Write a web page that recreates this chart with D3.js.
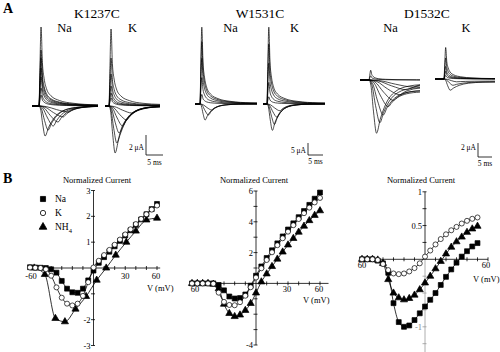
<!DOCTYPE html>
<html>
<head>
<meta charset="utf-8">
<script src="https://cdn.jsdelivr.net/npm/d3@7"></script>
<style>
body{margin:0;background:#fff}
svg{display:block}
text{font-family:"Liberation Serif","Times New Roman","DejaVu Serif",serif;fill:#000}
.trace{fill:none;stroke:#000;stroke-width:0.7}
.fit{fill:none;stroke:#000;stroke-width:0.8}
.ax{stroke:#000;stroke-width:0.8;fill:none}
.tick{font-size:8.5px}
</style>
</head>
<body>
<svg width="500" height="352"></svg>
<script>
const svg = d3.select("svg")

// ---------- panel A data : current traces ----------
// outward transient shape, ms after the step / fraction of peak
const outT = [0, 0.25, 0.6, 1.0, 1.5, 2.2, 3.5, 6, 10, 17, 25]
const outF = [0, 0.45, 1, 0.55, 0.35, 0.22, 0.13, 0.07, 0.035, 0.015, 0.01]
// inward shape: rise as fraction of time to peak, decay in ms after the peak
const inRiseT = [0, 0.25, 0.6, 1]
const inRiseF = [0, 0.1, 0.6, 1]
const inDecT = [1, 2.5, 5, 9, 14, 22]
const inDecF = [0.72, 0.42, 0.17, 0.05, 0.01, 0]

// K1237C (uA, ms)
const k1237NaOut = [7.9, 5.6, 4.8, 3.8, 2.9, 1.8, 1.1]
const k1237NaIn = [3.0, 2.4, 2.0, 1.6, 1.1, 0.6]
const k1237NaPk = [1.8, 2.7, 4.2, 5.6, 7.1, 8.6]
const k1237KOut = [7.7, 4.8, 3.2, 2.0, 1.3, 0.8]
const k1237KIn = [4.7, 3.7, 2.7, 2.0, 1.4, 0.7]
const k1237KPk = [1.8, 2.3, 3.0, 4.0, 5.2, 6.7]
// W1531C
const w1531NaOut = [32, 26, 19, 11, 4]
const w1531NaIn = [6.7, 4.6, 2.5]
const w1531NaPk = [1.7, 2.8, 3.9]
const w1531KOut = [32, 25, 17, 9, 3]
const w1531KIn = [11, 8.5, 5.5, 2.8]
const w1531KPk = [1.8, 2.5, 3.3, 4.3]
// D1532C
const d1532NaOut = [1.4, 0.6]
const d1532NaIn = [7.6, 6.1, 5.0, 3.8, 2.9, 2.1, 1.4, 1.0]
const d1532NaPk = [2.7, 3.9, 5.1, 6.9, 8.7, 11, 13.5, 15.8]
const d1532NaTail = [0.5, 0.9, 1.4, 1.6, 1.4, 1.0, 0.6, 0.4]
const d1532KOut = [4.5, 3.0, 1.8, 1.1, 0.5]
const d1532KIn = [1.6, 0.9, 0.4]
const d1532KPk = [2.2, 3.2, 4.5]
const d1532KTail = [0.4, 0.4, 0.3]

// ---------- panel B data : normalized I-V ----------
const volt5 = [-60,-55,-50,-45,-40,-35,-30,-25,-20,-15,-10,-5,0,5,10,15,20,25,30,35,40,45,50,55,60]
const na1 = [0.03,0.02,0.01,0,-0.05,-0.18,-0.5,-0.8,-0.94,-0.96,-0.8,-0.48,-0.1,0.2,0.42,0.63,0.84,1.05,1.26,1.46,1.67,1.88,2.08,2.28,2.48]
const k1 = [0.02,0.01,0,-0.05,-0.3,-0.75,-1.15,-1.38,-1.45,-1.38,-1.08,-0.55,0.02,0.28,0.5,0.7,0.9,1.1,1.3,1.5,1.7,1.9,2.08,2.26,2.42]
const voltNH1 = [-56,-46,-36,-27,-17,-7,3,12,21,31,40,50,60]
const nh1 = [0,-0.25,-1.95,-2.08,-1.59,-1.1,-0.47,0,0.5,1.0,1.43,1.86,1.93]

const na2 = [0,0,0,0,0,-0.1,-0.45,-0.85,-0.98,-0.95,-0.72,-0.15,0.5,1.1,1.65,2.15,2.6,3.05,3.5,3.9,4.3,4.7,5.1,5.5,5.9]
const k2 = [0,0,0,0,-0.02,-0.6,-1.2,-1.4,-1.42,-1.22,-0.8,-0.25,0.38,0.98,1.52,2.02,2.48,2.93,3.36,3.78,4.18,4.56,4.92,5.26,5.55]
const nh2 = [0,0,0,0,-0.05,-0.35,-1.35,-1.95,-2.15,-2.05,-1.75,-1.3,-0.62,0.1,0.62,1.1,1.58,2.04,2.5,2.92,3.33,3.72,4.08,4.42,4.72]

const volt3 = [-60,-55,-50,-45,-40,-35,-30,-25,-20,-15,-10,-5,0,5,10,15,20,25,30,35,40,45,50]
const na3 = [0,0,0,-0.02,-0.06,-0.2,-0.65,-0.93,-1.0,-0.98,-0.9,-0.8,-0.7,-0.6,-0.5,-0.38,-0.26,-0.15,-0.05,0.04,0.12,0.19,0.24]
const k3 = [0,0,0,-0.01,-0.07,-0.16,-0.21,-0.22,-0.21,-0.18,-0.13,-0.06,0.04,0.13,0.22,0.3,0.37,0.43,0.48,0.53,0.57,0.6,0.62]
const nh3 = [0,0,0,-0.01,-0.06,-0.3,-0.5,-0.57,-0.6,-0.58,-0.53,-0.45,-0.35,-0.25,-0.14,-0.03,0.08,0.18,0.26,0.33,0.4,0.45,0.49]

//panel letters
svg.append("text").attr("x", 3).attr("y", 12.5).style("font-size", "14px").style("font-weight", "bold").text("A")
svg.append("text").attr("x", 3).attr("y", 183).style("font-size", "14px").style("font-weight", "bold").text("B")

// ---------- panel A ----------
const mutants = [
	{name:"K1237C", cx:97, pxMs:3.4, pxUA:10, bar:[2,5], barX:146, barY:155, uaLab:"2 μA", uaY:149.5, msY:164.5,
	 cells:[{ion:"Na", lx:64.5, x0:32, on:39, x1:98, y0:106, decay:1, out:k1237NaOut, inA:k1237NaIn, inT:k1237NaPk},
	        {ion:"K", lx:132.5, x0:105, on:109, x1:160, y0:106, decay:1, out:k1237KOut, inA:k1237KIn, inT:k1237KPk}]},
	{name:"W1531C", cx:260, pxMs:3, pxUA:2.4, bar:[5,5], barX:308, barY:155, uaLab:"5 μA", uaY:152.5, msY:163.5,
	 cells:[{ion:"Na", lx:230.5, x0:195, on:200, x1:257, y0:104, decay:0.8, out:w1531NaOut, inA:w1531NaIn, inT:w1531NaPk},
	        {ion:"K", lx:294.5, x0:263, on:267, x1:325, y0:104, decay:0.8, out:w1531KOut, inA:w1531KIn, inT:w1531KPk}]},
	{name:"D1532C", cx:427, pxMs:2.8, pxUA:7, bar:[2,5], barX:478, barY:157, uaLab:"2 μA", uaY:150, msY:166,
	 cells:[{ion:"Na", lx:390.5, x0:360, on:369, x1:420, y0:80, decay:1.3, out:d1532NaOut, inA:d1532NaIn, inT:d1532NaPk, tail:d1532NaTail},
	        {ion:"K", lx:466, x0:435, on:444, x1:495, y0:79, decay:1.3, out:d1532KOut, inA:d1532KIn, inT:d1532KPk, tail:d1532KTail}]}
]

const outAt = d3.scaleLinear().domain(outT).range(outF).clamp(true)
const decAt = d3.scaleLinear().domain(inDecT).range(inDecF).clamp(true)

mutants.forEach(m => {
	svg.append("text").attr("x", m.cx).attr("y", 18).attr("text-anchor", "middle")
		.style("font-size", "13.5px").text(m.name)

	m.cells.forEach(c => {
		svg.append("text").attr("x", c.lx).attr("y", 32).attr("text-anchor", "middle")
			.style("font-size", "12.5px").text(c.ion)

		const tEnd = (c.x1 - c.x0) / m.pxMs
		const tOn = (c.on - c.x0) / m.pxMs
		const x = d3.scaleLinear().domain([0, tEnd]).range([c.x0, c.x1])
		const y = d3.scaleLinear().domain([0, 1]).range([c.y0, c.y0 - m.pxUA])
		const line = d3.line().x(d => x(d[0])).y(d => y(d[1])).curve(d3.curveMonotoneX)

		const traces = []
		c.out.forEach(a => {
			const pts = [[0, 0]]
			outT.forEach((t, i) => { if (tOn + t < tEnd) pts.push([tOn + t, a * outF[i]]) })
			pts.push([tEnd, a * outAt(tEnd - tOn)])
			traces.push(pts)
		})
		c.inA.forEach((a, k) => {
			const tp = c.inT[k]
			const tail = c.tail ? c.tail[k] : 0
			const pts = [[0, 0]]
			inRiseT.forEach((r, i) => pts.push([tOn + r * tp, -a * inRiseF[i]]))
			inDecT.forEach((d, i) => {
				const t = tOn + tp + d * c.decay
				if (t < tEnd) pts.push([t, -(tail + (a - tail) * inDecF[i])])
			})
			pts.push([tEnd, -(tail + (a - tail) * decAt((tEnd - tOn - tp) / c.decay))])
			traces.push(pts)
		})

		svg.append("g").selectAll("path")
			.data(traces)
			.enter()
			.append("path")
			.attr("class", "trace")
			.attr("d", line)
	})

	//scale bar
	const bh = m.bar[0] * m.pxUA, bw = m.bar[1] * m.pxMs
	svg.append("path").attr("class", "ax")
		.attr("d", `M${m.barX},${m.barY - bh}V${m.barY}H${m.barX + bw}`)
	svg.append("text").attr("x", m.barX - 2).attr("y", m.uaY).attr("text-anchor", "end")
		.style("font-size", "7.5px").text(m.uaLab)
	svg.append("text").attr("x", m.barX + bw / 2).attr("y", m.msY).attr("text-anchor", "middle")
		.style("font-size", "7.5px").text(m.bar[1] + " ms")
})

// ---------- panel B ----------
const ivPlots = [
	{xr:[30,157], yd:[-3,3], yr:[345.5,190.5], xe:[-61,63], ye:[-3,3], yt:[-3,-2,-1,1,2,3],
	 yl:[{v:3,t:"3"},{v:2,t:"2"},{v:1,t:"1"},{v:-2,t:"-2"},{v:-3,t:"-3"}],
	 xl:[{v:-60,t:"-60",dx:1},{v:30,t:"30",dx:0},{v:60,t:"60",dx:-1}], xlDy:10.5,
	 title:97, vx:147, vy:291,
	 series:[{v:volt5, i:na1, sym:d3.symbolSquare, size:24, fill:"#000"},
	         {v:voltNH1, i:nh1, sym:d3.symbolTriangle, size:22, fill:"#000"},
	         {v:volt5, i:k1, sym:d3.symbolCircle, size:20, fill:"#fff"}]},
	{xr:[192,320], yd:[-4,6], yr:[345,191], xe:[-62,68], ye:[-4,6], yt:[-4,-3,-2,-1,1,2,3,4,5,6],
	 yl:[{v:6,t:"6"},{v:4,t:"4"},{v:2,t:"2"},{v:-4,t:"-4"}],
	 xl:[{v:-60,t:"60",dx:3},{v:30,t:"30",dx:-1},{v:60,t:"60",dx:-1}], xlDy:9,
	 title:254, vx:303, vy:302.5,
	 series:[{v:volt5, i:na2, sym:d3.symbolSquare, size:24, fill:"#000"},
	         {v:volt5, i:nh2, sym:d3.symbolTriangle, size:22, fill:"#000"},
	         {v:volt5, i:k2, sym:d3.symbolCircle, size:20, fill:"#fff"}]},
	{xr:[362,488], yd:[-1,1], yr:[326.8,191.8], xe:[-63,60], ye:[-1.38,1], yt:[-1.25,-1,-0.75,-0.5,-0.25,0.25,0.5,0.75,1],
	 yl:[{v:1,t:"1"},{v:0.5,t:"0.5"},{v:-1,t:"-1"}],
	 xl:[{v:-60,t:"60",dx:0},{v:60,t:"60",dx:-2}], xlDy:9,
	 title:421, vx:473, vy:281.5,
	 series:[{v:volt3, i:na3, sym:d3.symbolSquare, size:24, fill:"#000"},
	         {v:volt3, i:nh3, sym:d3.symbolTriangle, size:22, fill:"#000"},
	         {v:volt3, i:k3, sym:d3.symbolCircle, size:20, fill:"#fff"}]}
]
const xTicks = [-60,-50,-40,-30,-20,-10,10,20,30,40,50,60]

ivPlots.forEach((p, pi) => {
	const x = d3.scaleLinear().domain([-60, 60]).range(p.xr)
	const y = d3.scaleLinear().domain(p.yd).range(p.yr)
	const g = svg.append("g")
	const x0 = x(0), y0 = y(0)

	g.append("line").attr("class", "ax")
		.attr("x1", x(p.xe[0])).attr("x2", x(p.xe[1])).attr("y1", y0).attr("y2", y0)
	g.append("line").attr("class", "ax")
		.attr("x1", x0).attr("x2", x0).attr("y1", y(p.ye[1])).attr("y2", y0)
	g.append("line").attr("class", "ax")
		.attr("x1", x0).attr("x2", x0).attr("y1", y0).attr("y2", y(p.ye[0]))
		.style("stroke", pi == 2 ? "#999" : "#000")

	g.selectAll("line.xt")
		.data(xTicks.filter(d => d >= p.xe[0] && d <= p.xe[1]))
		.enter()
		.append("line")
		.attr("class", "ax xt")
		.attr("x1", d => x(d)).attr("x2", d => x(d))
		.attr("y1", y0 - 2).attr("y2", y0 + 2)

	g.selectAll("line.yt")
		.data(p.yt)
		.enter()
		.append("line")
		.attr("class", "ax yt")
		.attr("x1", x0 - 2.5).attr("x2", x0 + 1.5)
		.attr("y1", d => y(d)).attr("y2", d => y(d))
		.style("stroke", d => (pi == 2 && d < 0) ? "#999" : "#000")

	g.selectAll("text.yl")
		.data(p.yl)
		.enter()
		.append("text")
		.attr("class", "tick")
		.attr("x", x0 - 3)
		.attr("y", d => y(d.v) + 3)
		.attr("text-anchor", "end")
		.style("fill", d => (pi == 2 && d.v < 0) ? "#888" : "#000")
		.text(d => d.t)

	g.selectAll("text.xl")
		.data(p.xl)
		.enter()
		.append("text")
		.attr("class", "tick")
		.attr("x", d => x(d.v) + d.dx)
		.attr("y", y0 + p.xlDy)
		.attr("text-anchor", "middle")
		.text(d => d.t)

	g.append("text").attr("x", p.title).attr("y", 182.5).attr("text-anchor", "middle")
		.style("font-size", "8.5px").text("Normalized Current")
	g.append("text").attr("x", p.vx).attr("y", p.vy)
		.style("font-size", "8.5px").text("V (mV)")

	const line = d3.line().x(d => x(d[0])).y(d => y(d[1])).curve(d3.curveMonotoneX)
	p.series.forEach(s => {
		const pts = s.v.map((v, i) => [v, s.i[i]])
		g.append("path").datum(pts).attr("class", "fit").attr("d", line)
	})
	p.series.forEach(s => {
		const pts = s.v.map((v, i) => [v, s.i[i]])
		g.selectAll(null)
			.data(pts)
			.enter()
			.append("path")
			.attr("d", d3.symbol().type(s.sym).size(s.size))
			.attr("transform", d => `translate(${x(d[0])},${y(d[1])})`)
			.attr("fill", s.fill)
			.attr("stroke", "#000")
			.attr("stroke-width", 0.7)
	})
})

//legend
const legend = [
	{sym:d3.symbolSquare, size:26, fill:"#000", y:199, t:"Na"},
	{sym:d3.symbolCircle, size:22, fill:"#fff", y:213, t:"K"},
	{sym:d3.symbolTriangle, size:26, fill:"#000", y:227, t:"NH"}
]
const lg = svg.selectAll("g.leg")
	.data(legend)
	.enter()
	.append("g")
	.attr("class", "leg")
	.attr("transform", d => `translate(43,${d.y})`)
lg.append("path")
	.attr("d", d => d3.symbol().type(d.sym).size(d.size)())
	.attr("fill", d => d.fill)
	.attr("stroke", "#000")
	.attr("stroke-width", 0.8)
const lt = lg.append("text")
	.attr("x", 12)
	.attr("y", 3.2)
	.style("font-size", "9.5px")
	.text(d => d.t)
lt.filter(d => d.t == "NH")
	.append("tspan")
	.attr("dy", 2.5)
	.style("font-size", "6.5px")
	.text("4")
</script>
</body>
</html>
